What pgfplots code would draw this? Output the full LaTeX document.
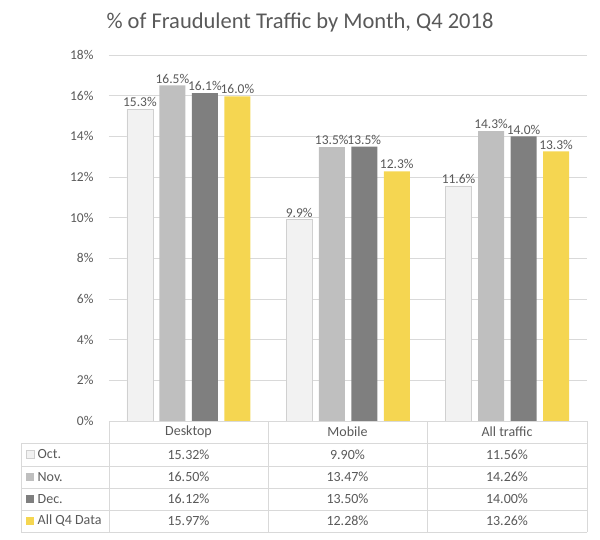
\documentclass[border=0pt]{standalone}
\usepackage{pgfplots}
\pgfplotsset{compat=1.18}
\usepackage{fontspec}
\setmainfont{Carlito}
\definecolor{txt}{HTML}{595959}
\definecolor{gridc}{HTML}{D9D9D9}
\definecolor{c1}{HTML}{F2F2F2}
\definecolor{c1b}{HTML}{D0D0D0}
\definecolor{c2}{HTML}{BFBFBF}
\definecolor{c3}{HTML}{7F7F7F}
\definecolor{c4}{HTML}{F5D651}
\pgfplotsset{/pgf/number format/assume math mode=true}
\begin{document}
\begin{tikzpicture}[x=1pt,y=1pt]
\path[use as bounding box] (0,0) rectangle (600,539);
\begin{axis}[at={(109pt,118pt)}, anchor=south west, scale only axis,
  width=478pt, height=366pt,
  xmin=-0.5, xmax=2.5, ymin=0, ymax=18,
  ytick={0,2,...,18}, xtick=\empty,
  axis line style={draw=none}, major tick length=0pt,
  ymajorgrids, grid style={gridc, line width=0.8pt},
  yticklabel={\pgfmathprintnumber{\tick}\%},
  yticklabel style={font=\fontsize{13.5}{15}\selectfont, text=txt, xshift=-12pt},
  ybar=6.5pt, bar width=26pt,
  nodes near coords={\pgfmathprintnumber[fixed,fixed zerofill,precision=1]{\pgfplotspointmeta}\%},
  nodes near coords style={font=\fontsize{13.5}{15}\selectfont, text=txt, inner sep=2pt},
  clip=false]
\addplot[fill=c1, draw=c1b, line width=0.8pt] coordinates {(0,15.32) (1,9.90) (2,11.56)};
\addplot[fill=c2, draw=none] coordinates {(0,16.50) (1,13.47) (2,14.26)};
\addplot[fill=c3, draw=none] coordinates {(0,16.12) (1,13.50) (2,14.00)};
\addplot[fill=c4, draw=none] coordinates {(0,15.97) (1,12.28) (2,13.26)};
\end{axis}
% title
\node[text=txt, font=\fontsize{22.5}{26}\selectfont] at (300,516) {\% of Fraudulent Traffic by Month, Q4 2018};
% data table grid
\begin{scope}[draw=gridc, line width=0.8pt]
\draw (109,118) -- (587,118);
\foreach \y in {96,73,51,29,7} \draw (21,\y) -- (587,\y);
\foreach \x in {109,268,427,587} \draw (\x,7) -- (\x,118);
\draw (21,7) -- (21,96);
\end{scope}
\begin{scope}[every node/.style={text=txt, font=\fontsize{14}{16}\selectfont, inner sep=0pt}]
\node at (188.5,107) {Desktop};
\node at (347.5,107) {Mobile};
\node at (507,107) {All traffic};
% legend keys
\fill[c1] (26,80.5) rectangle (34,88.5); \draw[c1b, line width=0.6pt] (26,80.5) rectangle (34,88.5);
\fill[c2] (26,58) rectangle (34,66);
\fill[c3] (26,36) rectangle (34,44);
\fill[c4] (26,14) rectangle (34,22);
\node[anchor=west] at (37.5,84.5) {Oct.};
\node[anchor=west] at (37.5,62) {Nov.};
\node[anchor=west] at (37.5,40) {Dec.};
\node[anchor=west] at (37.5,18) {All Q4 Data};
\node at (188.5,84.5) {15.32\%}; \node at (347.5,84.5) {9.90\%}; \node at (507,84.5) {11.56\%};
\node at (188.5,62) {16.50\%}; \node at (347.5,62) {13.47\%}; \node at (507,62) {14.26\%};
\node at (188.5,40) {16.12\%}; \node at (347.5,40) {13.50\%}; \node at (507,40) {14.00\%};
\node at (188.5,18) {15.97\%}; \node at (347.5,18) {12.28\%}; \node at (507,18) {13.26\%};
\end{scope}
\end{tikzpicture}
\end{document}
